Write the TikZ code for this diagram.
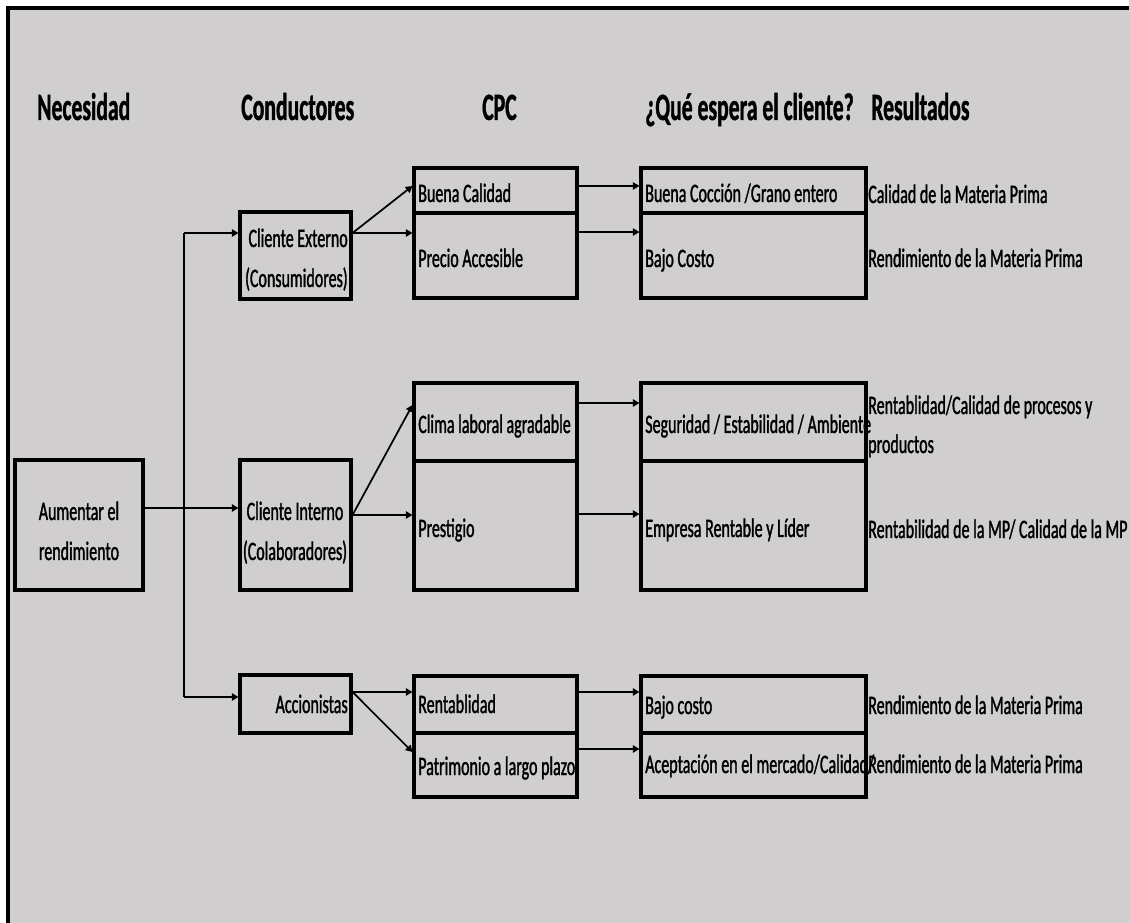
\documentclass[tikz,border=0pt]{standalone}
\usepackage{fontspec}
\setmainfont{Carlito}[FakeStretch=0.6, FakeBold=1.2]
\newfontfamily\headfont{Carlito}[FakeStretch=0.56, FakeBold=1]
\usetikzlibrary{arrows.meta,fit}
\definecolor{panel}{RGB}{208,206,207}
\tikzset{
  box/.style={draw, line width=2.3pt, inner sep=0pt},
  wire/.style={line width=1.3pt},
  conn/.style={line width=1.3pt, -{Triangle[length=5pt,width=5.5pt]}},
  txt/.style={font=\fontsize{20}{30}\selectfont, inner sep=0pt},
  head/.style={font=\headfont\bfseries\fontsize{29}{34}\selectfont, inner sep=0pt, anchor=base west},
}
\begin{document}
\begin{tikzpicture}[x=0.75pt,y=-0.75pt]
\useasboundingbox (0,0) rectangle (1129,923);
% page and panel
\fill[white] (0,0) rectangle (1129,923);
\fill[panel] (8,8) rectangle (1129,923);
\draw[line width=2.3pt] (8,923) -- (8,8) -- (1129,8);

% column headers
\node[head] (hNec) at (37,120) {Necesidad};
\node[head] (hCon) at (241,120) {Conductores};
\node[head] (hCPC) at (482,120) {CPC};
\node[head] (hQue) at (645,120) {¿Qué espera el cliente?};
\node[head] (hRes) at (871,120) {Resultados};

% need and drivers
\node[box, fit={(15,460) (143,590)}] (aum) {};
\node[box, fit={(240,212) (351,299)}] (ce) {};
\node[box, fit={(240,460) (351,590)}] (ci) {};
\node[box, fit={(240,675) (351,733)}] (acc) {};

% CPC boxes
\node[box, fit={(414,168) (577,213)}] (cpc1a) {};
\node[box, fit={(414,213) (577,298)}] (cpc1b) {};
\node[box, fit={(414,383) (577,461)}] (cpc2a) {};
\node[box, fit={(414,461) (577,590)}] (cpc2b) {};
\node[box, fit={(414,676) (577,733)}] (cpc3a) {};
\node[box, fit={(414,733) (577,797)}] (cpc3b) {};

% expectation boxes
\node[box, fit={(641,168) (866,213)}] (q1a) {};
\node[box, fit={(641,213) (866,298)}] (q1b) {};
\node[box, fit={(641,383) (866,461)}] (q2a) {};
\node[box, fit={(641,461) (866,590)}] (q2b) {};
\node[box, fit={(641,676) (866,733)}] (q3a) {};
\node[box, fit={(641,733) (866,797)}] (q3b) {};

% texts: need and drivers
\node[txt, anchor=base] (tAum1) at (79,520) {Aumentar el};
\node[txt, anchor=base] (tAum2) at (79,560) {rendimiento};
\node[txt, anchor=base east] (tCE1) at (348,247) {Cliente Externo};
\node[txt, anchor=base east] (tCE2) at (348,287) {(Consumidores)};
\node[txt, anchor=base] (tCI1) at (295,520) {Cliente Interno};
\node[txt, anchor=base] (tCI2) at (295,560) {(Colaboradores)};
\node[txt, anchor=base east] (tAcc) at (348,713) {Accionistas};

% texts: CPC
\node[txt, anchor=base west] (tC1a) at (418,202) {Buena Calidad};
\node[txt, anchor=base west] (tC1b) at (418,267) {Precio Accesible};
\node[txt, anchor=base west] (tC2a) at (418,433) {Clima laboral agradable};
\node[txt, anchor=base west] (tC2b) at (418,537) {Prestigio};
\node[txt, anchor=base west] (tC3a) at (418,713) {Rentablidad};
\node[txt, anchor=base west] (tC3b) at (418,775) {Patrimonio a largo plazo};

% texts: expectations
\node[txt, anchor=base west] (tQ1a) at (645,202) {Buena Cocción /Grano entero};
\node[txt, anchor=base west] (tQ1b) at (645,267) {Bajo Costo};
\node[txt, anchor=base west] (tQ2a) at (645,433) {Seguridad / Estabilidad / Ambiente};
\node[txt, anchor=base west] (tQ2b) at (645,537) {Empresa Rentable y Líder};
\node[txt, anchor=base west] (tQ3a) at (645,714) {Bajo costo};
\node[txt, anchor=base west] (tQ3b) at (645,773) {Aceptación en el mercado/Calidad/};

% texts: results
\node[txt, anchor=base west] (tR1a) at (868,203) {Calidad de la Materia Prima};
\node[txt, anchor=base west] (tR1b) at (868,267) {Rendimiento de la Materia Prima};
\node[txt, anchor=base west] (tR2a) at (868,414) {Rentablidad/Calidad de procesos y};
\node[txt, anchor=base west] (tR2c) at (868,453) {productos};
\node[txt, anchor=base west] (tR2b) at (868,538) {Rentabilidad de la MP/ Calidad de la MP};
\node[txt, anchor=base west] (tR3a) at (868,714) {Rendimiento de la Materia Prima};
\node[txt, anchor=base west] (tR3b) at (868,773) {Rendimiento de la Materia Prima};

% trunk from the need to the drivers
\coordinate (jtop) at (184,233);
\coordinate (jbot) at (184,697);
\draw[wire] (jtop) -- (jbot);
\draw[conn] (jtop) -- (ce.west |- jtop);
\draw[conn] (jbot) -- (acc.west |- jbot);
\draw[conn] ([yshift=12.75pt]aum.east) coordinate (aout) -- (ci.west |- aout);

% drivers to CPC
\coordinate (ceout) at (ce.east |- jtop);
\draw[conn] (ceout) -- ([yshift=3.4pt]cpc1a.west);
\draw[conn] (ceout) -- (cpc1b.west |- ceout);
\coordinate (ciout) at ([yshift=7.5pt]ci.east);
\draw[conn] (ciout) -- ([yshift=12.75pt]cpc2a.west);
\draw[conn] (ciout) -- (cpc2b.west |- ciout);
\coordinate (accout) at ([yshift=9pt]acc.east);
\draw[conn] (accout) -- (cpc3a.west |- accout);
\draw[conn] (accout) -- ([yshift=9.75pt]cpc3b.west);

% CPC to expectations
\coordinate (p1a) at ([yshift=3.4pt]cpc1a.east);
\draw[conn] (p1a) -- (q1a.west |- p1a);
\coordinate (p1b) at ([yshift=17.6pt]cpc1b.east);
\draw[conn] (p1b) -- (q1b.west |- p1b);
\coordinate (p2a) at ([yshift=14.25pt]cpc2a.east);
\draw[conn] (p2a) -- (q2a.west |- p2a);
\coordinate (p2b) at ([yshift=8.6pt]cpc2b.east);
\draw[conn] (p2b) -- (q2b.west |- p2b);
\coordinate (p3a) at ([yshift=9.4pt]cpc3a.east);
\draw[conn] (p3a) -- (q3a.west |- p3a);
\coordinate (p3b) at ([yshift=12pt]cpc3b.east);
\draw[conn] (p3b) -- (q3b.west |- p3b);
\end{tikzpicture}
\end{document}
